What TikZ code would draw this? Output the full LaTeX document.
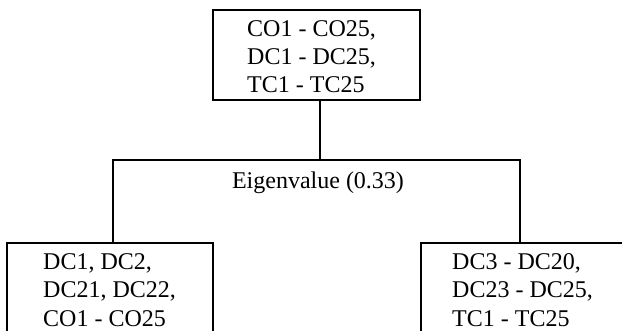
\documentclass[tikz,border=0pt]{standalone}
\usepackage{fontspec}
\setmainfont{Liberation Serif}
\begin{document}
\begin{tikzpicture}[x=1pt,y=1pt,
  boxstyle/.style={draw=black,line width=2.8pt,rectangle,inner sep=0pt},
  lbl/.style={inner sep=0pt,align=left,font=\fontsize{24}{28.3}\selectfont},
  conn/.style={draw=black,line width=2.8pt}]
\useasboundingbox (0,0) rectangle (622,330);
\fill[white] (0,0) rectangle (622,330);
% boxes
\node[boxstyle,minimum width=207pt,minimum height=90pt] (top) at (316.5,275) {};
\node[boxstyle,minimum width=206pt,minimum height=120pt] (leftbox) at (110,27) {};
\node[boxstyle,minimum width=230pt,minimum height=120pt] (rightbox) at (536,27) {};
% texts
\node[lbl,anchor=north west] (toptext) at (247,310) {CO1 - CO25,\\DC1 - DC25,\\TC1 - TC25};
\node[lbl,anchor=north west] (lefttext) at (43,76.5) {DC1, DC2,\\DC21, DC22,\\CO1 - CO25};
\node[lbl,anchor=north west] (righttext) at (452,76.5) {DC3 - DC20,\\DC23 - DC25,\\TC1 - TC25};
\node[lbl,anchor=base] (eig) at (318,142) {Eigenvalue (0.33)};
% connectors
\coordinate (j) at (320,170);
\coordinate (jl) at (113,170);
\coordinate (jr) at (520,170);
\draw[conn] (j |- top.south) -- (j);
\draw[conn,line join=miter] (jl |- leftbox.north) -- (jl) -- (jr) -- (jr |- rightbox.north);
\end{tikzpicture}
\end{document}
